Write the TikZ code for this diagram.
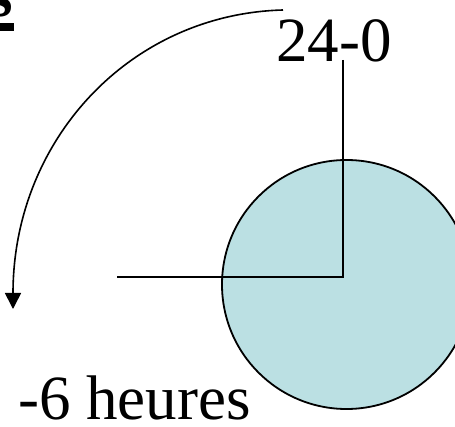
\documentclass[tikz,border=0pt]{standalone}
\usepackage{fontspec}
\setmainfont{Liberation Serif}
\usepackage{xcolor}
\usetikzlibrary{arrows.meta,positioning}
\definecolor{earthblue}{RGB}{187,224,227}
\tikzset{
  bigtext/.style={inner sep=0pt, font=\fontsize{63}{70}\selectfont},
  earthdisk/.style={draw, circle, line width=1.8pt, fill=earthblue, minimum size=249pt, inner sep=0pt},
  clockline/.style={line width=1.8pt},
  turnarrow/.style={-{Triangle[length=16pt,width=16pt]}, line width=1.6pt},
}
\begin{document}
\begin{tikzpicture}[x=1pt, y=-1pt]
  \useasboundingbox (0,0) rectangle (455,427);

  % cut-off title fragment
  \node[bigtext, font=\fontsize{63}{70}\selectfont\bfseries, anchor=base east] (titlefrag) at (13,17) {s};
  \fill (-20,23) rectangle (14,31);

  % earth
  \node[earthdisk] (earth) at (346.5,284.5) {};

  % labels
  \node[bigtext, anchor=base west] (midnight) at (276,62) {24-0};
  \node[bigtext, anchor=base west] (sixhours) at (18,419) {-6 heures};

  % hands
  \coordinate (handtop) at (343,60);
  \coordinate (corner) at (343,277);
  \coordinate (handleft) at (117,277);
  \draw[clockline] (handtop) -- (corner) -- (handleft);

  % rotation arrow
  \coordinate (turnstart) at (283,10);
  \coordinate (turnend) at (13,309);
  \draw[turnarrow] (turnstart) .. controls (130,14) and (13,140) .. (turnend);
\end{tikzpicture}
\end{document}
